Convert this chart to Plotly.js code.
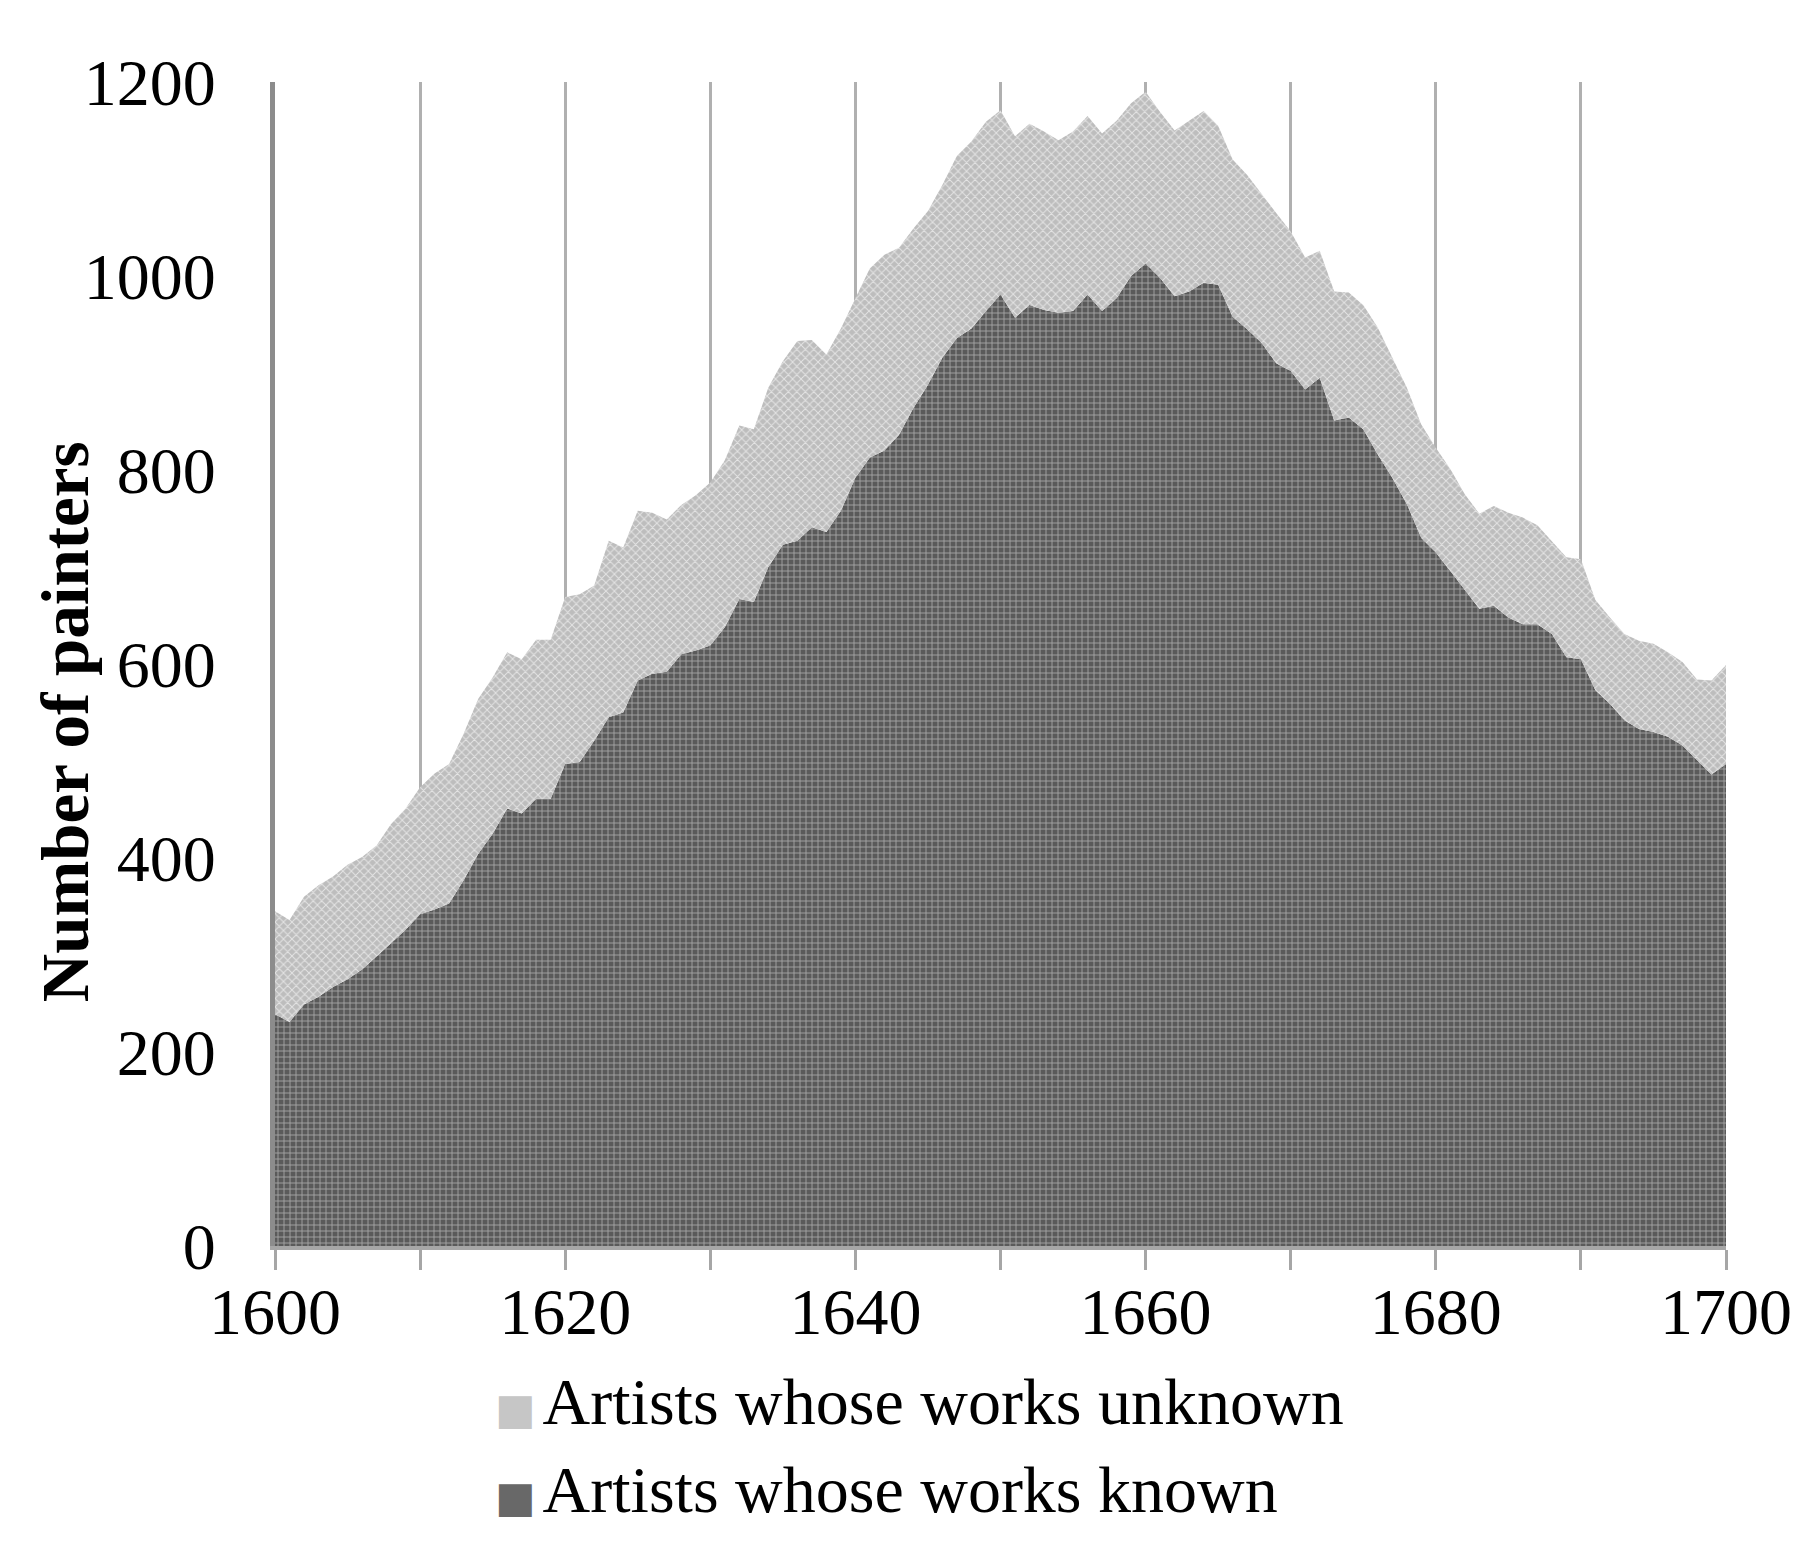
<!DOCTYPE html>
<html>
<head>
<meta charset="utf-8">
<script src="https://cdn.plot.ly/plotly-3.0.1.min.js"></script>
<style>html,body{margin:0;padding:0;background:#fff;}#chart{width:1820px;height:1548px;}</style>
</head>
<body>
<div id="chart"></div>
<script>
const years = [];
for (let y = 1600; y <= 1700; y++) years.push(y);

const knownWorks = [
  239,231,249,257,267,275,285,298,312,326,
  342,347,353,377,404,425,451,446,461,461,
  497,499,521,545,550,583,590,592,610,614,
  619,638,667,664,700,723,727,741,736,758,
  792,813,820,836,864,888,916,936,946,964,
  981,957,970,965,962,964,981,964,977,1000,
  1013,998,979,984,993,991,958,945,931,910,
  902,883,895,851,854,842,816,792,765,730,
  715,696,677,657,660,648,641,641,631,607,
  605,573,559,542,533,530,525,516,501,486,
  497
];

const unknownWorks = [
  106,105,111,115,114,118,116,115,123,125,
  131,140,144,151,160,161,161,159,164,164,
  172,173,160,182,170,175,166,157,154,160,
  168,172,179,178,185,189,206,193,183,188,
  185,195,202,193,185,179,178,188,193,195,
  190,187,187,184,178,185,184,183,183,178,
  177,171,171,176,177,164,162,159,153,155,
  144,136,131,133,129,128,131,124,120,117,
  108,105,98,98,103,108,110,102,96,103,
  103,93,89,89,91,91,87,86,83,97,
  102
];

const seriesNames = ['Artists whose works unknown', 'Artists whose works known'];
const xTickVals = [1600,1610,1620,1630,1640,1650,1660,1670,1680,1690,1700];
const xTickText = ['1600','','1620','','1640','','1660','','1680','','1700'];
const yTickVals = [0,200,400,600,800,1000,1200];
const yTitle = 'Number of painters';

const serif = 'Liberation Serif, Times New Roman, serif';
const NB = '\u00a0';
const swatch = (c) => '<span style="font-family:DejaVu Sans;font-size:43px;color:' + c + '">\u25A0</span>' +
  '<span style="font-size:28px">' + NB + '</span>';

const traces = [
  {
    x: years, y: knownWorks, name: seriesNames[1],
    type: 'scatter', mode: 'lines', stackgroup: 'one',
    line: {width: 0, color: '#5e5e5e'},
    fillcolor: '#626262',
    fillpattern: {shape: '+', bgcolor: '#5a5a5a', fgcolor: '#a4a4a4', size: 6, solidity: 0.28},
    showlegend: false, hoverinfo: 'x+y'
  },
  {
    x: years, y: unknownWorks, name: seriesNames[0],
    type: 'scatter', mode: 'lines', stackgroup: 'one',
    line: {width: 0, color: '#c4c4c4'},
    fillcolor: '#c6c6c6',
    fillpattern: {shape: 'x', bgcolor: '#bdbdbd', fgcolor: '#e4e4e4', size: 6, solidity: 0.3},
    showlegend: false, hoverinfo: 'x+y'
  },
  {
    x: [null], y: [null], name: swatch('#c6c6c6') + seriesNames[0], type: 'scatter', mode: 'markers',
    marker: {symbol: 'square', size: 1, color: 'rgba(0,0,0,0)', line: {width: 0}},
    legendrank: 1, legendgroup: 'a', showlegend: true, hoverinfo: 'skip'
  },
  {
    x: [null], y: [null], name: swatch('#686868') + seriesNames[1], type: 'scatter', mode: 'markers',
    marker: {symbol: 'square', size: 1, color: 'rgba(0,0,0,0)', line: {width: 0}},
    legendrank: 2, legendgroup: 'b', showlegend: true, hoverinfo: 'skip'
  }
];

const layout = {
  width: 1820, height: 1548,
  paper_bgcolor: '#ffffff', plot_bgcolor: '#ffffff',
  margin: {l: 275, r: 94, t: 82, b: 297},
  font: {family: serif, size: 66, color: '#000000'},
  showlegend: true,
  legend: {
    x: 0.124, y: -0.088, xanchor: 'left', yanchor: 'top',
    orientation: 'v', font: {family: serif, size: 66, color: '#000'},
    tracegroupgap: 8, itemwidth: 30, bgcolor: 'rgba(0,0,0,0)', traceorder: 'normal'
  },
  xaxis: {
    range: [1600, 1700], tickmode: 'array', tickvals: xTickVals, ticktext: xTickText,
    showgrid: true, gridcolor: '#b0b0b0', gridwidth: 3,
    showline: true, linecolor: '#a6a6a6', linewidth: 4,
    ticks: 'outside', ticklen: 20, tickwidth: 3, tickcolor: '#a6a6a6',
    ticklabelstandoff: -15,
    tickfont: {family: serif, size: 66, color: '#000'},
    zeroline: false, layer: 'below traces', fixedrange: true
  },
  yaxis: {
    range: [0, 1200], tickmode: 'array', tickvals: yTickVals,
    showgrid: false, zeroline: false,
    showline: true, linecolor: '#8c8c8c', linewidth: 5,
    ticks: 'outside', ticklen: 41, tickcolor: 'rgba(0,0,0,0)',
    tickfont: {family: serif, size: 66, color: '#000'},
    automargin: false, fixedrange: true
  },
  annotations: [{
    text: '<b>' + yTitle + '</b>', textangle: -90,
    xref: 'paper', yref: 'paper', x: 0, y: 0.45, xanchor: 'center', yanchor: 'middle',
    xshift: -210, showarrow: false,
    font: {family: serif, size: 67, color: '#000'}
  }]
};

Plotly.newPlot('chart', traces, layout, {displayModeBar: false, staticPlot: true});
</script>
</body>
</html>
